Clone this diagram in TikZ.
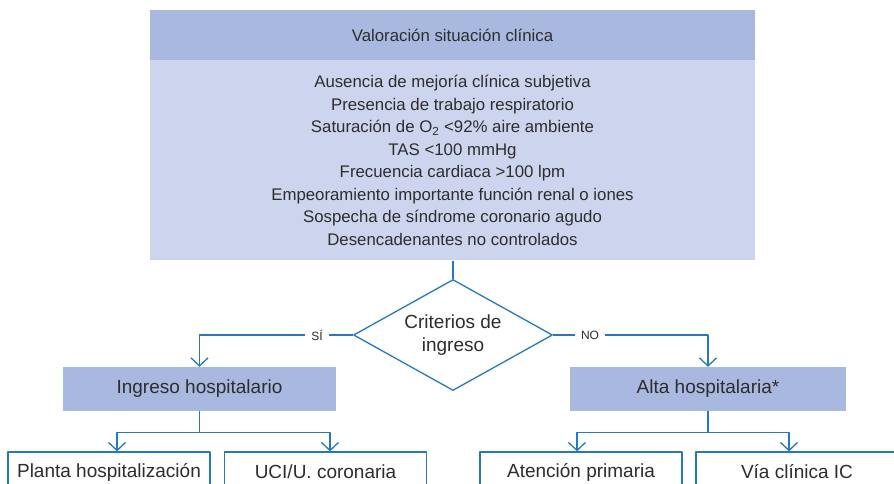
\documentclass[tikz,border=0pt]{standalone}
\usepackage{fontspec}
\setmainfont{Liberation Sans}
\usetikzlibrary{positioning,shapes.geometric,arrows.meta}
\definecolor{hdrblue}{RGB}{169,184,223}
\definecolor{bodyblue}{RGB}{205,213,238}
\definecolor{lineblue}{RGB}{38,120,192}
\definecolor{txtgray}{RGB}{45,45,45}
\begin{document}
\begin{tikzpicture}[x=1pt, y=-1pt, line join=round,
    every node/.style={text=txtgray},
    plain/.style={draw=lineblue, line width=1.3pt},
    conn/.style={plain, -{Straight Barb[length=8pt,width=17pt]}},
    fillbox/.style={rectangle, fill=hdrblue, minimum height=44pt, inner sep=0pt, font=\fontsize{19}{22}\selectfont},
    outbox/.style={rectangle, draw=lineblue, line width=1.3pt, fill=white, minimum width=202pt, minimum height=40pt, inner sep=0pt, font=\fontsize{19}{22}\selectfont},
    lbl/.style={fill=white, inner xsep=6pt, inner ysep=1pt, font=\fontsize{12}{14}\selectfont}]
    \useasboundingbox (0,0) rectangle (894,483);

    % Top block: clinical assessment
    \node[rectangle, fill=hdrblue, minimum width=605pt, minimum height=50pt, inner sep=0pt,
          font=\fontsize{16.8}{19}\selectfont] (header) at (452.5,35) {Valoración situación clínica};
    \node[rectangle, fill=bodyblue, minimum width=605pt, minimum height=200pt, inner sep=0pt,
          align=center, font=\fontsize{16.8}{22.5}\selectfont, below=0pt of header] (body) {%
        Ausencia de mejoría clínica subjetiva\\
        Presencia de trabajo respiratorio\\
        Saturación de O\textsubscript{2} <92\% aire ambiente\\
        TAS <100 mmHg\\
        Frecuencia cardiaca >100 lpm\\
        Empeoramiento importante función renal o iones\\
        Sospecha de síndrome coronario agudo\\
        Desencadenantes no controlados};

    % Decision
    \node[diamond, aspect=1.8, draw=lineblue, line width=1.3pt, fill=white, minimum width=199pt, minimum height=111pt,
          inner sep=0pt, align=center, font=\fontsize{19}{23}\selectfont] (crit) at (453,335) {Criterios de\\ingreso};

    % Outcomes
    \node[fillbox, minimum width=273pt] (ingreso) at (199.5,389) {Ingreso hospitalario};
    \node[fillbox, minimum width=276pt] (alta) at (708,389) {Alta hospitalaria*};

    \node[outbox] (planta) at (109,472) {Planta hospitalización};
    \node[outbox] (uci) at (325.5,472) {UCI/U. coronaria};
    \node[outbox] (ap) at (581,472) {Atención primaria};
    \node[outbox] (via) at (797,472) {Vía clínica IC};

    % Connectors
    \draw[plain] (body.south -| crit.north) -- (crit.north);
    \draw[conn] (crit.west) -| (ingreso.north) node[lbl, pos=0.117] {SÍ};
    \draw[conn] (crit.east) -| (alta.north) node[lbl, pos=0.119] {NO};

    \draw[conn] (ingreso.south) -- ++(0,21) -| ([xshift=8pt]planta.north);
    \draw[conn] (ingreso.south) -- ++(0,21) -| ([xshift=4.5pt]uci.north);
    \draw[conn] (alta.south) -- ++(0,21) -| ([xshift=-4pt]ap.north);
    \draw[conn] (alta.south) -- ++(0,21) -| ([xshift=-8pt]via.north);
\end{tikzpicture}
\end{document}
